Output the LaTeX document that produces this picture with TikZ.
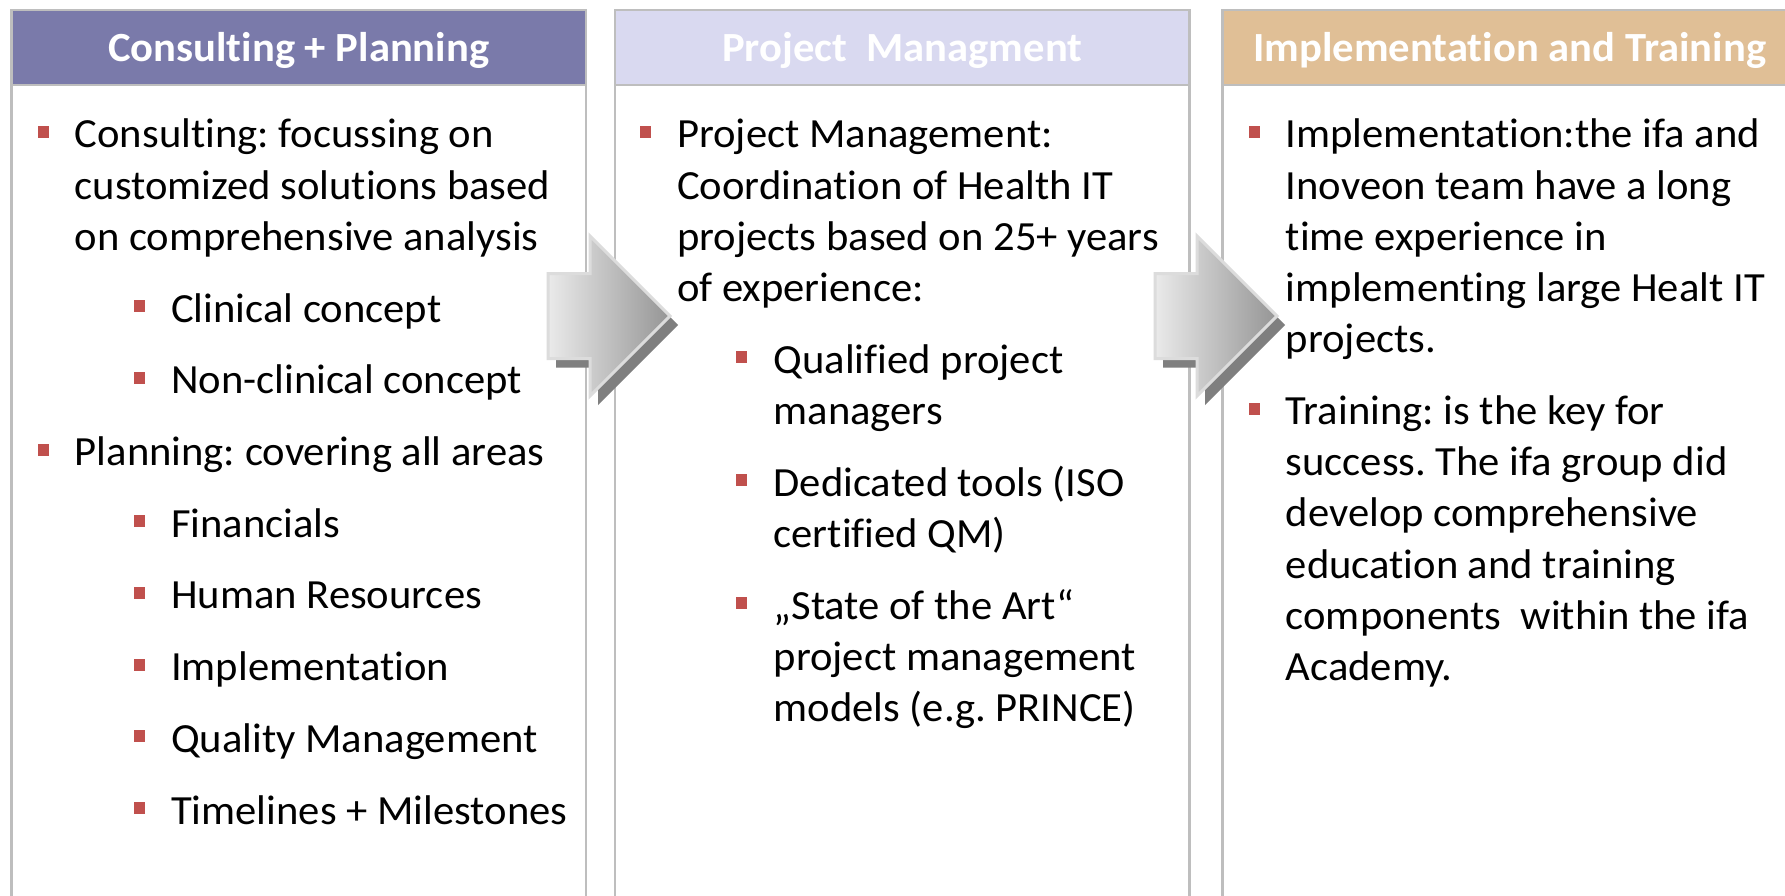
\documentclass[tikz,border=0pt]{standalone}
\usepackage{fontspec}
\setmainfont{Carlito}[FakeStretch=1.027, Ligatures=NoCommon]
\definecolor{hdrA}{HTML}{7A7AAA}
\definecolor{hdrB}{HTML}{D9D9F0}
\definecolor{hdrC}{HTML}{E0BF96}
\definecolor{bord}{HTML}{BEBEBE}
\definecolor{bul}{HTML}{C0504D}
\definecolor{shad}{HTML}{7F7F7F}
\definecolor{arrL}{HTML}{EAEAEA}
\definecolor{arrR}{HTML}{959595}
\definecolor{arrE}{HTML}{DCDCDC}
\tikzset{
  panel/.style={draw=bord, line width=2.3pt, fill=white},
  hdrtxt/.style={text=white, font=\fontsize{41.5}{50}\selectfont\bfseries, inner sep=0pt, anchor=base},
  body/.style={anchor=base west, inner sep=0pt, font=\fontsize{41.5}{51.2}\selectfont},
  bulletbox/.style={fill=bul, minimum width=11pt, minimum height=12pt, inner sep=0pt, anchor=center},
  arrshadow/.style={fill=shad},
  arrbody/.style={left color=arrL, right color=arrR, draw=arrE, line width=3pt, line join=miter},
}
\frenchspacing
\begin{document}
\begin{tikzpicture}[x=1pt,y=-1pt]
\useasboundingbox (0,0) rectangle (1785,896);
\clip (0,0) rectangle (1785,896);
\fill[white] (0,0) rectangle (1785,896);
% panels
\draw[panel] (11.5,10) rectangle (586,930);
\draw[panel] (615,10) rectangle (1189.5,930);
\draw[panel] (1222.5,10) rectangle (1797,930);
% headers
\draw[panel, fill=hdrA] (11.5,10) rectangle (586,85);
\draw[panel, fill=hdrB] (615,10) rectangle (1189.5,85);
\draw[panel, fill=hdrC] (1222.5,10) rectangle (1797,85);
\node[hdrtxt] (h1) at (298.75,62) {Consulting + Planning};
\node[hdrtxt] (h2) at (902.25,62) {Project\ \ Managment};
\node[hdrtxt] (h3) at (1509.75,62) {Implementation and Training};
% panel 1
\node[bulletbox] (b11) at (43,132) {};
\node[body] (t11) at (74.6,148) {\parbox[t]{520pt}{Consulting: focussing on\\customized solutions based\\on comprehensive analysis}};
\node[bulletbox] (b12) at (139,306.1) {};
\node[body] (t12) at (171,322.1) {Clinical concept};
\node[bulletbox] (b13) at (139,377.8) {};
\node[body] (t13) at (171,393.8) {Non-clinical concept};
\node[bulletbox] (b14) at (43,449.5) {};
\node[body] (t14) at (74.6,465.5) {Planning: covering all areas};
\node[bulletbox] (b15) at (139,521.2) {};
\node[body] (t15) at (171,537.2) {Financials};
\node[bulletbox] (b16) at (139,592.9) {};
\node[body] (t16) at (171,608.9) {Human Resources};
\node[bulletbox] (b17) at (139,664.6) {};
\node[body] (t17) at (171,680.6) {Implementation};
\node[bulletbox] (b18) at (139,736.3) {};
\node[body] (t18) at (171,752.3) {Quality Management};
\node[bulletbox] (b19) at (139,808) {};
\node[body] (t19) at (171,824) {Timelines + Milestones};
% panel 2
\node[bulletbox] (b21) at (645.5,132) {};
\node[body] (t21) at (677,148) {\parbox[t]{520pt}{Project Management:\\Coordination of Health IT\\projects based on 25+ years\\of experience:}};
\node[bulletbox] (b22) at (741.5,357.3) {};
\node[body] (t22) at (773.5,373.3) {\parbox[t]{420pt}{Qualified project\\managers}};
\node[bulletbox] (b23) at (741.5,480.2) {};
\node[body] (t23) at (773.5,496.2) {\parbox[t]{420pt}{Dedicated tools (ISO\\certified QM)}};
\node[bulletbox] (b24) at (741.5,603.1) {};
\node[body] (t24) at (773.5,619.1) {\parbox[t]{420pt}{„State of the Art“\\project management\\models (e.g. PRINCE)}};
% panel 3
\node[bulletbox] (b31) at (1254,132) {};
\node[body] (t31) at (1285.6,148) {\parbox[t]{520pt}{Implementation:the ifa and\\Inoveon team have a long\\time experience in\\implementing large Healt IT\\projects.}};
\node[bulletbox] (b32) at (1254,408.5) {};
\node[body] (t32) at (1285.6,424.5) {\parbox[t]{520pt}{Training: is the key for\\success. The ifa group did\\develop comprehensive\\education and training\\components\ \ within the ifa\\Academy.}};
% arrows
\foreach \dx in {0,607}{
  \begin{scope}[xshift=\dx]
    \fill[arrshadow] (556,282.5) -- (598,282.5) -- (598,245) -- (678,325) -- (598,405) -- (598,367.5) -- (556,367.5) -- cycle;
    \path[arrbody] (548,273.5) -- (590,273.5) -- (590,236) -- (670,316) -- (590,396) -- (590,358.5) -- (548,358.5) -- cycle;
  \end{scope}
}
\end{tikzpicture}
\end{document}
